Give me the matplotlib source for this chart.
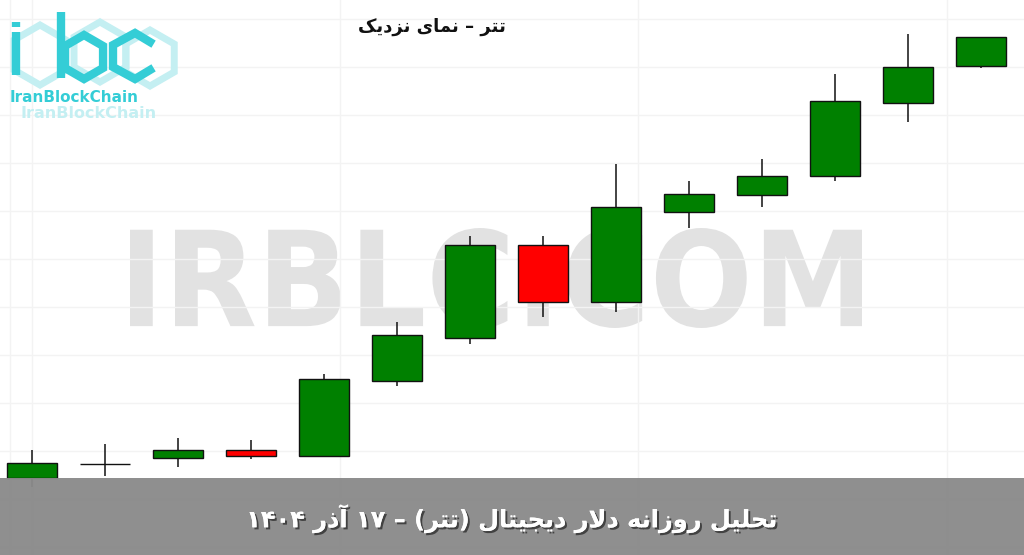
import re
import unicodedata
import matplotlib
matplotlib.use("Agg")
import matplotlib.pyplot as plt
import matplotlib.patheffects as pe
from matplotlib.patches import Rectangle, RegularPolygon, PathPatch
from matplotlib.textpath import TextPath
from matplotlib.font_manager import FontProperties
from matplotlib.transforms import Affine2D

# daily USDT candles (toman), oldest first
opens = [117010, 117080, 117110, 117150, 117120, 117495, 117710,
         118175, 117890, 118340, 118425, 118520, 118885, 119070]
highs = [117150, 117180, 117210, 117200, 117530, 117790, 118220,
         118220, 118580, 118495, 118605, 119030, 119230, 119215]
lows = [116965, 117020, 117065, 117105, 117115, 117470, 117680,
        117815, 117840, 118260, 118365, 118495, 118790, 119060]
closes = [117085, 117080, 117150, 117120, 117505, 117725, 118175,
          117890, 118365, 118430, 118520, 118895, 119065, 119215]

title = "تتر – نمای نزدیک"
banner = "تحلیل روزانه دلار دیجیتال (تتر) – ۱۷ آذر ۱۴۰۴"
watermark = "IRBLC.COM"
brand = "IranBlockChain"

RIGHT_ONLY = set("اآأإدذرزژوة")


def is_letter(c):
    return "\u0620" <= c <= "\u064A" or c in "پچژکگی"


def form_of(c, form):
    try:
        return unicodedata.lookup(unicodedata.name(c) + " " + form + " FORM")
    except KeyError:
        return c


def rtl(text):
    # very small persian shaper: contextual forms + visual order
    out = []
    i = 0
    n = len(text)
    while i < n:
        c = text[i]
        if not is_letter(c):
            out.append(c)
            i += 1
            continue
        prev = text[i - 1] if i > 0 else ""
        joins_prev = bool(prev) and is_letter(prev) and prev not in RIGHT_ONLY
        if c == "ل" and i + 1 < n and text[i + 1] in "اآ":
            base = "ARABIC LIGATURE LAM WITH ALEF"
            if text[i + 1] == "آ":
                base += " WITH MADDA ABOVE"
            f = "FINAL" if joins_prev else "ISOLATED"
            out.append(unicodedata.lookup(base + " " + f + " FORM"))
            i += 2
            continue
        nxt = text[i + 1] if i + 1 < n else ""
        joins_next = c not in RIGHT_ONLY and bool(nxt) and is_letter(nxt)
        if joins_prev and joins_next:
            f = "MEDIAL"
        elif joins_prev:
            f = "FINAL"
        elif joins_next:
            f = "INITIAL"
        else:
            f = "ISOLATED"
        out.append(form_of(c, f))
        i += 1
    s = "".join(out)[::-1]
    s = s.translate(str.maketrans("()", ")("))
    s = re.sub(r"[0-9\u06F0-\u06F9]+", lambda m: m.group()[::-1], s)
    return s


W, H = 1024, 555
fig = plt.figure(figsize=(W / 100, H / 100), dpi=100, facecolor="white")

# background layer (watermark), pixel coordinates
bg = fig.add_axes([0, 0, 1, 1], zorder=0)
bg.set_xlim(0, W)
bg.set_ylim(H, 0)
bg.axis("off")

fp = FontProperties(family="DejaVu Sans", weight="bold")
tp = TextPath((0, 0), watermark, size=100, prop=fp)
ext = tp.get_extents()
tr = (Affine2D().translate(-ext.x0, -ext.y0)
      .scale(732 / ext.width, -100 / ext.height).translate(130, 328))
bg.add_patch(PathPatch(tr.transform_path(tp), facecolor="#e2e2e2",
                       edgecolor="none"))

# price axes
ax = fig.add_axes([0, 0, 1, 1], zorder=1)
ax.set_facecolor("none")
px_per_bar = 73
px_per_price = 1 / 5
x0_px = 32
ax.set_xlim(-x0_px / px_per_bar, (W - x0_px) / px_per_bar)
top_price = 117000 + 480 * 5
ax.set_ylim(top_price - H / px_per_price, top_price)
ax.set_yticks(range(116665, 119400, 240))
ax.set_xticks([-0.3, 0, 4.22, 8.3, 12.53])
ax.grid(True, color="#f3f3f3", lw=1)
ax.tick_params(length=0, labelleft=False, labelbottom=False)
for s in ax.spines.values():
    s.set_visible(False)

body_w = 0.685
for i, (o, h, l, c) in enumerate(zip(opens, highs, lows, closes)):
    col = "#008000" if c >= o else "#ff0000"
    ax.vlines(i, l, h, color="#111111", lw=1.1, zorder=2)
    ax.add_patch(Rectangle((i - body_w / 2, min(o, c)), body_w, abs(c - o),
                           facecolor=col, edgecolor="#111111", lw=1,
                           zorder=3))

# overlay layer, pixel coordinates
ov = fig.add_axes([0, 0, 1, 1], zorder=3)
ov.set_facecolor("none")
ov.set_xlim(0, W)
ov.set_ylim(H, 0)
ov.axis("off")

ov.add_patch(Rectangle((0, 478), W, H - 478, facecolor="#8a8a8a",
                       alpha=0.96, edgecolor="none"))
ov.text(511, 519, rtl(banner), color="white", fontsize=17.3,
        fontweight="bold", family="DejaVu Sans", ha="center", va="center",
        path_effects=[pe.withSimplePatchShadow(offset=(1.5, -1.5),
                                               shadow_rgbFace="#222222",
                                               alpha=0.7), pe.Normal()])

ov.text(432, 27, rtl(title), color="#111111", fontsize=13,
        fontweight="bold", family="DejaVu Sans", ha="center", va="center")

# logo
cyan = "#34cdd6"
pale = "#c4eff2"
for cx, cy, r in [(40, 55, 30), (100, 52, 30), (150, 58, 28)]:
    ov.add_patch(RegularPolygon((cx, cy), 6, radius=r, fill=False,
                                edgecolor=pale, lw=5))
ov.plot([16, 16], [32, 75], color=cyan, lw=6, solid_capstyle="butt")
ov.plot([16, 16], [22, 27], color=cyan, lw=6, solid_capstyle="butt")
ov.plot([61, 61], [12, 78], color=cyan, lw=6, solid_capstyle="butt")
ov.add_patch(RegularPolygon((84, 57), 6, radius=22, fill=False,
                            edgecolor=cyan, lw=6))
ov.plot([150, 135, 113, 113, 135, 150], [42, 33, 45, 67, 79, 70],
        color=cyan, lw=6, solid_joinstyle="miter")
ov.text(10, 97, brand, color=cyan, fontsize=11, fontweight="bold",
        family="DejaVu Sans", ha="left", va="center")
ov.text(20, 113, brand, color=pale, fontsize=11.5, fontweight="bold",
        family="DejaVu Sans", ha="left", va="center")

fig.savefig("out.png", dpi=100, facecolor="white")
